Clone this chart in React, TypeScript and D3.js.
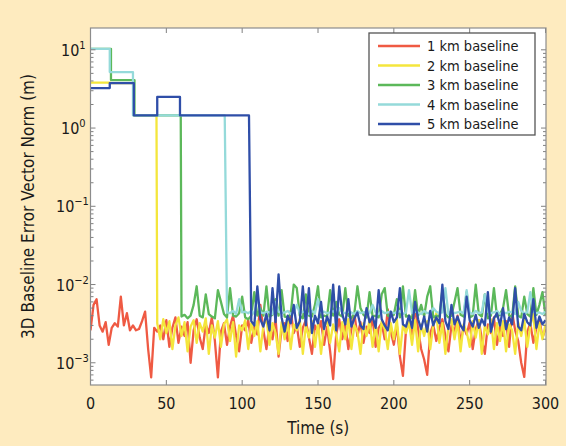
import React from "react";
import * as d3 from "d3";

// ---------- data ----------
// step (convergence) phase: [time s, error m]
const steps1km: [number, number][] = [];
const steps2km: [number, number][] = [[0, 3.8], [13, 3.8], [13, 3.75], [28.5, 3.75], [28.5, 1.45], [43.5, 1.45]];
const steps3km: [number, number][] = [[0, 10.3], [13.5, 10.3], [13.5, 4.1], [29, 4.1], [29, 1.45], [59.5, 1.45]];
const steps4km: [number, number][] = [[0, 10.3], [12.7, 10.3], [12.7, 5.2], [28, 5.2], [28, 1.45], [88.5, 1.45]];
const steps5km: [number, number][] = [[0, 3.24], [12.7, 3.24], [12.7, 3.75], [28.6, 3.75], [28.6, 1.45], [44, 1.45], [44, 2.5], [59, 2.5], [59, 1.45], [104.5, 1.45]];

// converged phase, sampled every 2 s, values in millimetres
const noiseStart1km = 0;
const noise1kmMm = [
  2.6, 5.5, 6.5, 3.0, 2.5, 3.3, 1.7, 2.8, 3.2, 2.9, 7.0, 3.0, 4.3, 2.6, 3.0, 2.6, 2.7, 3.4, 4.5, 1.5, 0.65, 2.8, 2.5,
  3.0, 2.0, 3.5, 1.6, 2.8, 3.8, 1.8, 2.9, 2.2, 3.3, 1.0, 2.6, 3.6, 2.1, 1.5, 3.1, 2.4, 3.8, 1.9, 0.65,
  2.5, 3.2, 1.7, 2.9, 4.0, 2.2, 1.4, 3.0, 2.6, 3.5, 1.8, 2.9, 2.3, 5.5, 2.6, 1.5, 3.1, 2.0, 3.7, 1.2,
  2.7, 3.2, 1.9, 4.6, 2.4, 3.0, 1.6, 2.8, 3.5, 2.1, 1.3, 3.0, 2.5, 3.4, 1.7, 2.9, 1.4, 0.62,
  2.3, 3.6, 2.0, 3.1, 1.5, 2.7, 4.2, 2.2, 3.3, 1.8, 2.9, 2.4, 3.8, 1.6, 2.8, 3.2, 2.0, 4.8, 2.5, 1.7,
  3.0, 1.2, 0.68, 2.6, 3.4, 2.1, 5.2, 2.7, 1.5, 1.1, 0.7, 2.4, 3.1, 1.9, 2.8, 3.6, 2.2, 1.4, 3.0, 2.5,
  4.0, 1.8, 2.9, 2.3, 3.3, 1.5, 2.7, 3.5, 2.0, 1.3, 3.1, 2.4, 3.8, 1.7, 2.9, 2.2, 3.4, 1.6, 4.4, 2.6,
  1.9, 1.0, 0.66, 2.5, 3.2, 1.8, 2.8, 3.6, 2.1, 2.7,
];
const noiseStart2km = 44;
const noise2kmMm = [
  3.2, 2.0, 3.6, 2.4, 3.4, 1.5, 3.0, 3.8, 2.2, 3.3, 1.4, 2.9, 3.5, 1.8, 3.2, 2.5, 3.7, 1.3, 3.0, 2.1,
  3.4, 1.6, 3.1, 3.6, 1.9, 3.3, 1.2, 3.0, 2.6, 3.5, 1.5, 3.2, 2.2, 3.4, 1.4, 3.0, 3.7, 1.7, 3.2, 2.4,
  1.3, 3.3, 2.0, 3.5, 1.5, 3.1, 2.6, 3.6, 1.3, 3.0, 2.1, 3.4, 1.6, 3.2, 1.3, 2.9, 3.5, 1.8, 3.1, 2.3,
  1.4, 3.3, 2.0, 3.6, 1.5, 3.0, 2.5, 1.3, 3.2, 2.2, 3.5, 1.6, 3.1, 1.4, 3.4, 2.7, 1.5, 3.2, 2.0, 3.6,
  1.3, 3.0, 2.4, 3.3, 1.7, 3.5, 1.4, 3.1, 2.2, 3.4, 1.5, 3.0, 4.3, 1.8, 3.2, 1.3, 2.9, 3.6, 2.0, 3.3,
  1.4, 3.1, 2.5, 1.6, 3.4, 2.1, 3.5, 1.3, 3.0, 2.3, 3.6, 1.5, 3.2, 1.9, 3.4, 1.4, 3.1, 2.6, 1.3, 3.3,
  2.2, 3.5, 1.6, 3.0, 4.2, 1.5, 3.2, 2.0, 3.1,
];
const noiseStart3km = 60;
const noise3kmMm = [
  3.9, 4.1, 3.7, 4.0, 5.5, 9.5, 4.0, 3.8, 7.5, 4.2, 3.9, 3.7, 8.5, 6.0, 4.2, 3.8, 9.0, 4.0, 3.9, 4.3,
  7.0, 3.8, 3.6, 4.0, 8.0, 4.0, 5.0, 4.0, 9.5, 3.9, 4.1, 6.5, 4.0, 8.5, 3.9, 3.8, 4.2, 10.0, 9.0, 4.0,
  3.7, 7.5, 4.0, 3.9, 5.5, 9.5, 3.8, 4.0, 3.9, 8.5, 4.0, 6.0, 4.1, 3.9, 9.0, 4.0, 3.7, 4.3, 9.5, 5.0,
  4.1, 3.8, 8.0, 3.9, 4.0, 3.8, 7.5, 9.0, 4.0, 3.9, 4.1, 6.5, 3.8, 9.5, 3.9, 4.0, 3.7, 8.5, 4.0, 5.5,
  3.9, 7.0, 9.5, 3.8, 4.0, 3.9, 8.5, 4.2, 3.8, 4.0, 6.0, 9.0, 4.1, 3.9, 8.0, 3.8, 4.0, 10.0, 4.2, 3.9,
  7.5, 3.7, 4.0, 9.0, 3.9, 4.1, 5.0, 8.5, 4.0, 3.9, 9.5, 4.0, 3.8, 7.0, 4.2, 3.9, 9.0, 4.1, 5.5, 8.0,
  4.0,
];
const noiseStart4km = 90;
const noise4kmMm = [
  4.4, 4.3, 4.6, 4.2, 6.5, 4.4, 4.5, 4.3, 4.6, 4.2, 7.0, 4.4, 4.3, 4.5, 4.4, 4.2, 6.0, 4.5, 4.3, 4.4,
  4.6, 4.2, 4.4, 5.5, 4.3, 4.5, 4.4, 4.2, 4.6, 4.3, 6.5, 4.4, 4.5, 4.3, 4.4, 4.6, 4.2, 5.0, 4.4, 4.3,
  4.5, 4.4, 4.2, 4.6, 4.3, 4.4, 4.5, 4.3, 5.5, 4.4, 4.2, 4.6, 4.3, 4.4, 4.5, 4.3, 4.4, 4.6, 4.2, 4.4,
  8.5, 4.3, 4.5, 4.4, 4.2, 4.6, 4.3, 4.4, 5.0, 4.5, 4.3, 4.4, 9.0, 4.2, 4.6, 4.3, 4.4, 4.5, 4.3, 8.5,
  4.4, 4.2, 4.6, 4.3, 4.4, 7.5, 4.5, 4.3, 4.4, 4.6, 4.2, 4.4, 4.3, 4.5, 4.4, 4.2, 6.0, 4.6, 4.3, 4.4,
  8.0, 4.5, 4.3, 4.4, 4.2, 4.5,
];
const noiseStart5km = 106;
const noise5kmMm = [
  3.4, 3.0, 9.5, 3.6, 2.9, 4.2, 2.6, 9.0, 3.3, 13.5, 3.8, 2.5, 4.0, 3.2, 5.5, 2.8, 3.4, 9.5, 3.0, 9.0,
  2.4, 4.0, 3.2, 6.0, 2.7, 3.9, 3.0, 10.0, 2.6, 9.5, 4.2, 3.1, 6.5, 2.9, 3.7, 4.4, 3.0, 2.7, 5.0, 3.3,
  3.9, 2.8, 8.5, 3.6, 3.0, 2.6, 4.5, 3.3, 3.8, 9.0, 3.1, 2.9, 4.0, 2.8, 6.0, 3.6, 2.7, 3.9, 2.5, 4.6,
  3.0, 3.8, 3.2, 10.0, 3.4, 2.7, 5.5, 3.1, 3.9, 3.0, 2.6, 7.0, 3.5, 2.9, 4.1, 2.8, 3.6, 3.0, 8.0, 2.5,
  3.7, 4.3, 3.0, 5.0, 2.7, 3.8, 3.1, 9.0, 2.9, 2.6, 4.2, 3.3, 3.0, 6.5, 2.8, 3.9, 3.1, 3.5,
];
const sampleStep = 2;

const seriesNames = ["1 km baseline", "2 km baseline", "3 km baseline", "4 km baseline", "5 km baseline"];
const seriesColors = ["#ef5a43", "#f4e63c", "#5cb85a", "#95dada", "#2f4ea8"];

const xTicks = [0, 50, 100, 150, 200, 250, 300];
const yDecades = [-3, -2, -1, 0, 1];

// ---------- layout ----------
const W = 566, H = 446;
const P = { left: 90.5, right: 546, top: 28, bottom: 385 };
const FONT = "'DejaVu Sans Condensed', 'Liberation Sans Narrow', sans-serif";

export default function App() {
  const x = d3.scaleLinear().domain([0, 300]).range([P.left, 545.5]);
  const y = d3.scaleLog().domain([5.2e-4, 19]).range([P.bottom, P.top]);

  const build = (st: [number, number][], t0: number, mm: number[]) => {
    const pts: [number, number][] = st.map(([t, v]) => [t, v]);
    mm.forEach((v, i) => pts.push([t0 + i * sampleStep, v / 1000]));
    return pts;
  };
  const series = [
    build(steps1km, noiseStart1km, noise1kmMm),
    build(steps2km, noiseStart2km, noise2kmMm),
    build(steps3km, noiseStart3km, noise3kmMm),
    build(steps4km, noiseStart4km, noise4kmMm),
    build(steps5km, noiseStart5km, noise5kmMm),
  ];
  const line = d3.line<[number, number]>().x((d) => x(d[0])).y((d) => y(d[1]));

  const minor: number[] = [];
  for (let e = -4; e <= 1; e++) for (let k = 2; k <= 9; k++) {
    const v = k * Math.pow(10, e);
    if (v >= 5.2e-4 && v <= 19) minor.push(v);
  }
  const tickCol = "#808080";

  return (
    <svg width={W} height={H} style={{ position: "absolute", left: 0, top: 0 }}>
      <rect x={0} y={0} width={W} height={H} fill="#feebbf" />
      <rect x={P.left} y={P.top} width={P.right - P.left} height={P.bottom - P.top} fill="#ffffff" />
      <defs>
        <clipPath id="pc"><rect x={P.left} y={P.top} width={P.right - P.left} height={P.bottom - P.top} /></clipPath>
      </defs>
      <g clipPath="url(#pc)">
        {series.map((s, i) => (
          <path key={i} d={line(s) || ""} fill="none" stroke={seriesColors[i]} strokeWidth={2.3} strokeLinejoin="round" />
        ))}
      </g>
      {/* ticks */}
      <g stroke={tickCol} strokeWidth={1}>
        {xTicks.map((t) => (
          <g key={t}>
            <line x1={x(t)} x2={x(t)} y1={P.bottom} y2={P.bottom - 5} />
            <line x1={x(t)} x2={x(t)} y1={P.top} y2={P.top + 5} />
          </g>
        ))}
        {yDecades.map((e) => (
          <g key={e}>
            <line x1={P.left} x2={P.left + 5} y1={y(Math.pow(10, e))} y2={y(Math.pow(10, e))} />
            <line x1={P.right} x2={P.right - 5} y1={y(Math.pow(10, e))} y2={y(Math.pow(10, e))} />
          </g>
        ))}
        {minor.map((v, i) => (
          <g key={i}>
            <line x1={P.left} x2={P.left + 3} y1={y(v)} y2={y(v)} />
            <line x1={P.right} x2={P.right - 3} y1={y(v)} y2={y(v)} />
          </g>
        ))}
      </g>
      <rect x={P.left} y={P.top} width={P.right - P.left} height={P.bottom - P.top} fill="none" stroke="#8c8c8c" strokeWidth={1.2} />
      {/* tick labels */}
      <g fontFamily={FONT} fontSize={16} fill="#1a1a1a">
        {xTicks.map((t) => (
          <text key={t} x={x(t)} y={409} textAnchor="middle">{t}</text>
        ))}
        {yDecades.map((e) => (
          <text key={e} x={e < 0 ? 56 : 61} y={y(Math.pow(10, e)) + 6}>
            10<tspan fontSize={11} dy={-7}>{e < 0 ? "−" + Math.abs(e) : String(e)}</tspan>
          </text>
        ))}
        <text x={(P.left + P.right) / 2} y={434} textAnchor="middle" fontSize={17}>Time (s)</text>
        <text transform={`translate(34, ${(P.top + P.bottom) / 2}) rotate(-90)`} textAnchor="middle" fontSize={17}>
          3D Baseline Error Vector Norm (m)
        </text>
      </g>
      {/* legend */}
      <g fontFamily={FONT} fontSize={14.5} fill="#1a1a1a">
        <rect x={369} y={33} width={166} height={102} fill="#ffffff" stroke="#555" strokeWidth={1.3} />
        {seriesNames.map((n, i) => {
          const ly = 46 + i * 19.5;
          return (
            <g key={n}>
              <line x1={378} x2={420} y1={ly} y2={ly} stroke={seriesColors[i]} strokeWidth={2.3} />
              <text x={427} y={ly + 5}>{n}</text>
            </g>
          );
        })}
      </g>
    </svg>
  );
}
